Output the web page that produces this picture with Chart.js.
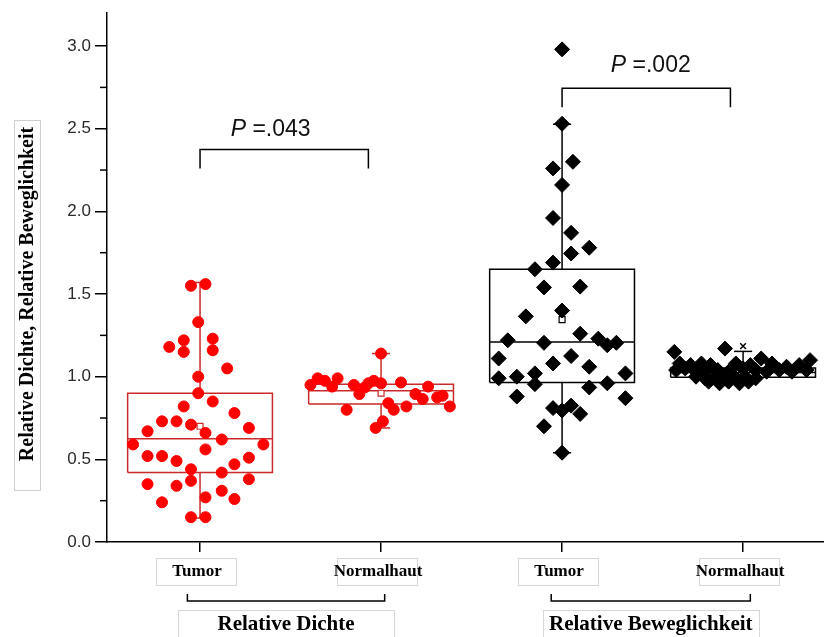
<!DOCTYPE html>
<html>
<head>
<meta charset="utf-8">
<script src="https://cdn.jsdelivr.net/npm/chart.js@4.4.0/dist/chart.umd.min.js"></script>
<style>
  html, body { margin: 0; background: #fff; }
  canvas { display: block; }
</style>
</head>
<body>
<canvas id="chart" width="824" height="637"></canvas>
<script>
// categories on the x axis and the two groups they belong to
const categories = ['Tumor', 'Normalhaut', 'Tumor', 'Normalhaut'];
const xPos = [1, 2, 3, 4];
const groups = ['Relative Dichte', 'Relative Beweglichkeit'];
const groupSpan = [[0.93, 2.02], [2.94, 4.04]];

const yTicks = [0, 0.5, 1.0, 1.5, 2.0, 2.5, 3.0];
const yMinorTicks = [0.25, 0.75, 1.25, 1.75, 2.25, 2.75];

// box statistics per category
const whiskerLow = [0.145, 0.69, 0.54, 0.965];
const q1 = [0.42, 0.835, 0.965, 0.996];
const median = [0.625, 0.915, 1.21, 1.026];
const q3 = [0.90, 0.955, 1.65, 1.053];
const whiskerHigh = [1.57, 1.14, 2.527, 1.153];
const means = [0.70, 0.90, 1.345, 1.03];
const maxMark = [4, 1.185];

// individual measurements
const dichteTumorX = [0.95, 1.03, 0.99, 0.83, 0.91, 0.91, 1.07, 1.07, 1.15, 0.99, 0.99, 1.07, 0.91, 1.19, 0.79, 0.87, 0.95, 0.71, 1.03, 1.27, 1.12, 0.63, 1.35, 1.03, 0.71, 0.79, 0.87, 1.27, 1.19, 0.95, 1.12, 0.71, 0.87, 0.95, 1.27, 1.03, 1.12, 0.79, 1.19, 0.95, 1.03];
const dichteTumorY = [1.55, 1.56, 1.33, 1.18, 1.22, 1.15, 1.23, 1.16, 1.05, 1.00, 0.90, 0.85, 0.82, 0.78, 0.73, 0.73, 0.71, 0.67, 0.66, 0.69, 0.62, 0.59, 0.59, 0.56, 0.52, 0.52, 0.49, 0.51, 0.47, 0.44, 0.42, 0.35, 0.34, 0.37, 0.38, 0.27, 0.31, 0.24, 0.26, 0.15, 0.15];

const dichteNormalX = [2.00, 1.61, 1.65, 1.69, 1.73, 1.76, 1.85, 1.88, 1.91, 1.96, 2.00, 2.11, 2.26, 2.19, 2.23, 2.31, 2.34, 2.04, 2.07, 2.14, 1.81, 2.38, 2.01, 1.97, 1.93];
const dichteNormalY = [1.14, 0.95, 0.99, 0.975, 0.94, 0.99, 0.95, 0.895, 0.935, 0.975, 0.96, 0.965, 0.94, 0.895, 0.865, 0.875, 0.885, 0.84, 0.80, 0.82, 0.80, 0.82, 0.73, 0.69, 0.96];

const bewegTumorX = [3.00, 3.00, 2.95, 3.06, 3.00, 2.95, 3.05, 3.15, 3.05, 2.95, 2.85, 2.90, 3.10, 2.80, 3.00, 2.70, 2.90, 3.10, 3.20, 3.25, 3.30, 2.65, 2.95, 3.05, 3.15, 2.65, 2.75, 2.85, 2.85, 3.35, 3.15, 3.25, 2.75, 3.35, 2.95, 3.00, 3.05, 3.10, 2.90, 3.00];
const bewegTumorY = [2.98, 2.53, 2.26, 2.30, 2.16, 1.96, 1.87, 1.78, 1.745, 1.69, 1.65, 1.54, 1.545, 1.365, 1.40, 1.22, 1.205, 1.26, 1.23, 1.19, 1.205, 1.11, 1.08, 1.125, 1.06, 0.99, 1.00, 1.02, 0.955, 1.02, 0.935, 0.96, 0.88, 0.87, 0.81, 0.795, 0.825, 0.775, 0.70, 0.54];

const bewegNormalX = [3.62, 3.90, 4.37, 4.10, 3.65, 3.71, 3.77, 3.82, 3.96, 4.04, 4.16, 4.24, 4.31, 3.63, 3.68, 3.74, 3.80, 3.86, 3.92, 4.00, 4.07, 4.13, 4.20, 4.27, 4.35, 3.74, 3.79, 3.85, 3.90, 3.96, 4.01, 4.07, 3.81, 3.87, 3.92, 3.98, 4.03];
const bewegNormalY = [1.15, 1.17, 1.10, 1.11, 1.08, 1.07, 1.08, 1.07, 1.08, 1.07, 1.08, 1.06, 1.07, 1.04, 1.05, 1.03, 1.04, 1.04, 1.03, 1.05, 1.04, 1.03, 1.04, 1.03, 1.04, 1.00, 0.99, 1.00, 1.00, 0.99, 1.00, 0.99, 0.97, 0.96, 0.97, 0.96, 0.97];

// significance brackets
const pPairs = [[1, 1.93], [3, 3.93]];
const pLevel = [2.375, 2.745];
const pLabels = ['.043', '.002'];
const pTextX = [1.39, 3.49];
const pTextY = [2.495, 2.88];

const RED = '#ff0000';
const RED_BOX = '#cc2a2a';
const BLACK = '#000000';
const boxColors = [RED_BOX, RED_BOX, BLACK, BLACK];

const BOX_HALF = 0.4;
const CAP_HALF = 0.05;

function line(points, color) {
  return {
    data: points.map(([x, y]) => ({ x, y })),
    showLine: true,
    borderColor: color,
    borderWidth: 1.5,
    pointRadius: 0,
    tension: 0,
    order: 3
  };
}

function boxDatasets(i) {
  const x = xPos[i], c = boxColors[i];
  return [
    line([[x - BOX_HALF, q1[i]], [x + BOX_HALF, q1[i]], [x + BOX_HALF, q3[i]], [x - BOX_HALF, q3[i]], [x - BOX_HALF, q1[i]]], c),
    line([[x - BOX_HALF, median[i]], [x + BOX_HALF, median[i]]], c),
    line([[x, whiskerLow[i]], [x, q1[i]]], c),
    line([[x, q3[i]], [x, whiskerHigh[i]]], c),
    line([[x - CAP_HALF, whiskerLow[i]], [x + CAP_HALF, whiskerLow[i]]], c),
    line([[x - CAP_HALF, whiskerHigh[i]], [x + CAP_HALF, whiskerHigh[i]]], c)
  ];
}

function points(xs, ys, color, style, radius) {
  return {
    data: xs.map((x, i) => ({ x, y: ys[i] })),
    pointStyle: style,
    pointRadius: radius,
    backgroundColor: color,
    borderColor: color,
    borderWidth: 1,
    order: 1
  };
}

const datasets = [
  ...xPos.flatMap((_, i) => boxDatasets(i)),
  {
    data: xPos.map((x, i) => ({ x, y: means[i] })),
    pointStyle: 'rect',
    pointRadius: 4.2,
    backgroundColor: '#fff',
    borderColor: boxColors,
    borderWidth: 1.2,
    order: 2
  },
  {
    data: [{ x: maxMark[0], y: maxMark[1] }],
    pointStyle: 'crossRot',
    pointRadius: 4,
    borderColor: BLACK,
    borderWidth: 1.5,
    order: 2
  },
  points(dichteTumorX, dichteTumorY, RED, 'circle', 5.5),
  points(dichteNormalX, dichteNormalY, RED, 'circle', 5.5),
  points(bewegTumorX, bewegTumorY, BLACK, 'rectRot', 7.5),
  points(bewegNormalX, bewegNormalY, BLACK, 'rectRot', 7.5)
];

const SERIF = '"Liberation Serif", "Times New Roman", serif';
const SANS = '"Liberation Sans", Arial, sans-serif';

// axis titles, category labels, group brackets and p-values
const decor = {
  id: 'decor',
  afterDraw(chart) {
    const { ctx, chartArea, scales: { x, y } } = chart;
    ctx.save();

    // minor ticks on the y axis
    ctx.strokeStyle = '#000';
    ctx.lineWidth = 1.5;
    yMinorTicks.forEach(v => {
      const py = y.getPixelForValue(v);
      ctx.beginPath();
      ctx.moveTo(chartArea.left - 7, py);
      ctx.lineTo(chartArea.left, py);
      ctx.stroke();
    });

    // y axis title in its frame
    ctx.strokeStyle = '#cfcfcf';
    ctx.lineWidth = 1;
    ctx.strokeRect(14.5, 120.5, 26, 370);
    ctx.save();
    ctx.translate(28, 294);
    ctx.rotate(-Math.PI / 2);
    ctx.fillStyle = '#000';
    ctx.font = 'bold 20px ' + SERIF;
    ctx.textAlign = 'center';
    ctx.textBaseline = 'middle';
    ctx.fillText('Relative Dichte, Relative Beweglichkeit', 0, 0);
    ctx.restore();

    // category labels
    ctx.font = 'bold 17px ' + SERIF;
    ctx.textAlign = 'center';
    ctx.textBaseline = 'middle';
    categories.forEach((label, i) => {
      const px = x.getPixelForValue(xPos[i]);
      ctx.strokeStyle = '#d6d6d6';
      ctx.strokeRect(Math.round(px - 44) + 0.5, 558.5, 80, 27);
      ctx.fillStyle = '#000';
      ctx.fillText(label, px - 3, 572);
    });

    // group brackets and labels
    groups.forEach((label, g) => {
      const x1 = x.getPixelForValue(groupSpan[g][0]);
      const x2 = x.getPixelForValue(groupSpan[g][1]);
      ctx.strokeStyle = '#000';
      ctx.lineWidth = 1.5;
      ctx.beginPath();
      ctx.moveTo(x1, 594);
      ctx.lineTo(x1, 601);
      ctx.lineTo(x2, 601);
      ctx.lineTo(x2, 594);
      ctx.stroke();
      const mid = (x1 + x2) / 2;
      ctx.strokeStyle = '#d6d6d6';
      ctx.lineWidth = 1;
      ctx.strokeRect(Math.round(mid - 108) + 0.5, 610.5, 216, 30);
      ctx.fillStyle = '#000';
      ctx.font = 'bold 21px ' + SERIF;
      ctx.fillText(label, mid, 625);
    });

    // significance brackets
    pPairs.forEach(([a, b], k) => {
      const x1 = x.getPixelForValue(a);
      const x2 = x.getPixelForValue(b);
      const yTop = y.getPixelForValue(pLevel[k]);
      ctx.strokeStyle = '#000';
      ctx.lineWidth = 1.5;
      ctx.beginPath();
      ctx.moveTo(x1, yTop + 19);
      ctx.lineTo(x1, yTop);
      ctx.lineTo(x2, yTop);
      ctx.lineTo(x2, yTop + 19);
      ctx.stroke();

      const italic = 'italic 23px ' + SANS;
      const plain = '23px ' + SANS;
      ctx.font = italic;
      const wP = ctx.measureText('P').width;
      ctx.font = plain;
      const rest = ' =' + pLabels[k];
      const wR = ctx.measureText(rest).width;
      const cx = x.getPixelForValue(pTextX[k]);
      const cy = y.getPixelForValue(pTextY[k]);
      const start = cx - (wP + wR) / 2;
      ctx.textAlign = 'left';
      ctx.fillStyle = '#111';
      ctx.font = italic;
      ctx.fillText('P', start, cy);
      ctx.font = plain;
      ctx.fillText(rest, start + wP, cy);
      ctx.textAlign = 'center';
    });

    ctx.restore();
  }
};

new Chart(document.getElementById('chart'), {
  type: 'scatter',
  data: { datasets },
  options: {
    responsive: false,
    animation: false,
    layout: { autoPadding: false, padding: { top: 13, right: 0, left: 0, bottom: 0 } },
    plugins: { legend: { display: false }, tooltip: { enabled: false } },
    scales: {
      x: {
        type: 'linear',
        min: 0.486,
        max: 4.447,
        afterBuildTicks: s => { s.ticks = xPos.map(v => ({ value: v })); },
        afterFit: s => {
          s.height = 95;
          s.paddingLeft = 0;
          s.paddingRight = 0;
        },
        ticks: { display: false },
        grid: { drawOnChartArea: false, drawTicks: true, tickLength: 10, color: '#000', lineWidth: 1.5 },
        border: { display: true, color: '#000', width: 1.5 }
      },
      y: {
        type: 'linear',
        min: 0,
        max: 3.2,
        afterBuildTicks: s => { s.ticks = yTicks.map(v => ({ value: v })); },
        afterFit: s => {
          s.width = 107;
          s.paddingTop = 0;
          s.paddingBottom = 0;
        },
        ticks: {
          callback: v => v.toFixed(1),
          font: { family: SANS, size: 17 },
          color: '#2a2a2a',
          padding: 4
        },
        grid: { drawOnChartArea: false, drawTicks: true, tickLength: 12, color: '#000', lineWidth: 1.5 },
        border: { display: true, color: '#000', width: 1.5 }
      }
    }
  },
  plugins: [decor]
});
</script>
</body>
</html>
